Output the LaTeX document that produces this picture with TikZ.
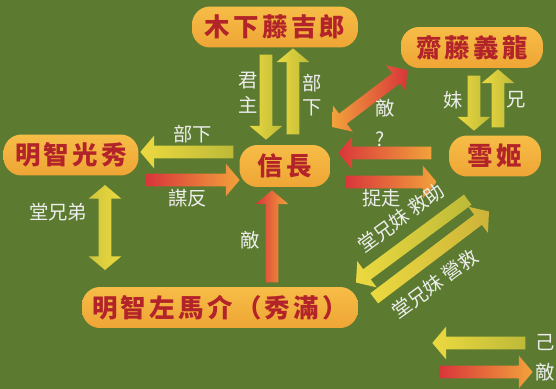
\documentclass[tikz,border=0pt]{standalone}
\usepackage{fontspec}
\newfontfamily\namefont[LetterSpace=13]{Noto Sans CJK TC}
\newfontfamily\relfont{Noto Sans CJK TC}
\usetikzlibrary{shapes.arrows, calc}

\definecolor{field}{HTML}{5C7B31}
\definecolor{boxtop}{HTML}{F6BD47}
\definecolor{boxbot}{HTML}{EFA535}
\definecolor{namered}{HTML}{B3242A}
\definecolor{yel}{HTML}{ECD940}
\definecolor{olive}{HTML}{BDBA38}
\definecolor{hot}{HTML}{D9363A}
\definecolor{warm}{HTML}{F2A23B}
\definecolor{reltext}{HTML}{EDEDED}

\tikzset{
  person/.style={rectangle, rounded corners=0.36cm, top color=boxtop, bottom color=boxbot, draw=none, minimum height=0.82cm, text=namered, font=\namefont\bfseries\fontsize{14.5pt}{14.5pt}\selectfont, inner sep=0pt},
  rel/.style={text=reltext, font=\relfont\fontsize{11pt}{13pt}\selectfont, inner sep=0pt, align=center},
  onearrow/.style={single arrow, draw=none, inner sep=0.12cm, outer sep=0pt, single arrow head extend=0.2cm, single arrow tip angle=100},
  twoarrow/.style={double arrow, draw=none, inner sep=0.12cm, outer sep=0pt, double arrow head extend=0.2cm, double arrow tip angle=100}
}

% block arrow from #1 to #2, shaded #3 -> #4
\newcommand{\barrow}[4]{%
  \path let \p1=(#1), \p2=(#2), \n1={atan2(\y2-\y1,\x2-\x1)}, \n2={veclen(\x2-\x1,\y2-\y1)} in
    node[onearrow, minimum height=\n2, rotate=\n1, left color=#3, right color=#4] at ($(#1)!0.5!(#2)$) {};}
\newcommand{\bbarrow}[4]{%
  \path let \p1=(#1), \p2=(#2), \n1={atan2(\y2-\y1,\x2-\x1)}, \n2={veclen(\x2-\x1,\y2-\y1)} in
    node[twoarrow, minimum height=\n2, rotate=\n1, left color=#3, right color=#4] at ($(#1)!0.5!(#2)$) {};}

\begin{document}
\begin{tikzpicture}[x=0.02cm, y=-0.02cm]
\fill[field] (0,0) rectangle (556,389);
\useasboundingbox (0,0) rectangle (556,389);

% people
\node[person, minimum width=3.32cm] (kinoshita) at (275,27) {木下藤吉郎};
\node[person, minimum width=2.84cm] (saito) at (472,47.5) {齋藤義龍};
\node[person, minimum width=2.7cm] (mitsuhide) at (71,155) {明智光秀};
\node[person, minimum width=1.82cm, minimum height=0.84cm] (nobunaga) at (285,166) {信長};
\node[person, minimum width=1.84cm] (yukihime) at (495,156) {雪姬};
\node[person, minimum width=5.52cm] (samanosuke) at (220,307.5) {明智左馬介（秀滿）};

% arrow ends
\coordinate (k2n-a) at (266,52);  \coordinate (k2n-b) at (266,137);
\coordinate (n2k-a) at (293,137); \coordinate (n2k-b) at (293,51);
\coordinate (n2m-a) at (236,152); \coordinate (n2m-b) at (143,152);
\coordinate (m2n-a) at (144,180); \coordinate (m2n-b) at (237,180);
\coordinate (ns-a) at (332,127);  \coordinate (ns-b) at (407,70);
\coordinate (s2y-a) at (474,73);  \coordinate (s2y-b) at (474,128);
\coordinate (y2s-a) at (498,130); \coordinate (y2s-b) at (498,72);
\coordinate (y2n-a) at (434,153); \coordinate (y2n-b) at (341,153);
\coordinate (n2y-a) at (343,182); \coordinate (n2y-b) at (434,182);
\coordinate (ms-a) at (105,185);  \coordinate (ms-b) at (105,270);
\coordinate (s2n-a) at (272,285); \coordinate (s2n-b) at (272,193);
\coordinate (y2sm-a) at (470,198); \coordinate (y2sm-b) at (358,281);
\coordinate (sm2y-a) at (372,300); \coordinate (sm2y-b) at (487,213);
\coordinate (own-a) at (528,343); \coordinate (own-b) at (435,343);
\coordinate (foe-a) at (437,372); \coordinate (foe-b) at (530,372);

\barrow{k2n-a}{k2n-b}{yel}{olive}
\barrow{n2k-a}{n2k-b}{yel}{olive}
\barrow{n2m-a}{n2m-b}{yel}{olive}
\barrow{m2n-a}{m2n-b}{hot}{warm}
\bbarrow{ns-a}{ns-b}{warm}{hot}
\barrow{s2y-a}{s2y-b}{yel}{olive}
\barrow{y2s-a}{y2s-b}{yel}{olive}
\barrow{y2n-a}{y2n-b}{hot}{warm}
\barrow{n2y-a}{n2y-b}{hot}{warm}
\bbarrow{ms-a}{ms-b}{olive!60!yel}{yel}
\barrow{s2n-a}{s2n-b}{hot}{warm}
\barrow{y2sm-a}{y2sm-b}{yel}{olive}
\barrow{sm2y-a}{sm2y-b}{yel}{olive!70!warm}
\barrow{own-a}{own-b}{yel}{olive}
\barrow{foe-a}{foe-b}{hot}{warm}

% relations
\node[rel] (l-lord) at (248,93) {君\\[1pt]主};
\node[rel] (l-vassal) at (312,95) {部\\[1pt]下};
\node[rel] (l-vassal2) at (193,134) {部下};
\node[rel] (l-revolt) at (188,198) {謀反};
\node[rel] (l-enemy) at (385,108) {敵};
\node[rel] (l-query) at (380,139) {?};
\node[rel] (l-sister) at (453,100) {妹};
\node[rel] (l-brother) at (516,100) {兄};
\node[rel] (l-capture) at (382,198) {捉走};
\node[rel] (l-cousins) at (58,212) {堂兄弟};
\node[rel] (l-enemy2) at (250,240) {敵};
\node[rel, rotate=36] (l-help) at (401,218) {堂兄妹 救助};
\node[rel, rotate=36] (l-rescue) at (435,284) {堂兄妹 營救};
\node[rel, anchor=west] (l-own) at (535,343) {己};
\node[rel, anchor=west] (l-foe) at (535,372) {敵};
\end{tikzpicture}
\end{document}
